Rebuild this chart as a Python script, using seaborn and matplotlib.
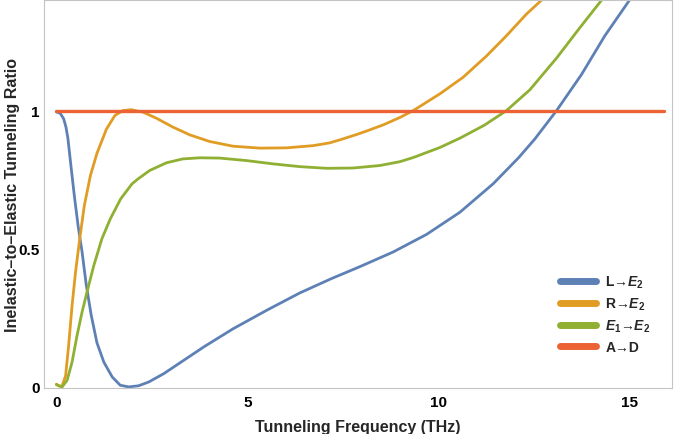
import numpy as np
import pandas as pd
import matplotlib
matplotlib.use("Agg")
import matplotlib.pyplot as plt
import seaborn as sns

# values
blue_x = [0.0, 0.1, 0.19, 0.25, 0.30, 0.38, 0.47, 0.57, 0.67, 0.78, 0.91, 1.06, 1.24, 1.46,
          1.67, 1.89, 2.15, 2.42, 2.81, 3.33, 3.86, 4.62, 5.50, 6.37, 7.2, 7.94, 8.81, 9.69,
          10.56, 11.43, 12.1, 12.52, 13.09, 13.74, 14.35, 15.0, 15.3]
blue_y = [0.995, 0.99, 0.97, 0.94, 0.90, 0.80, 0.69, 0.58, 0.49, 0.37, 0.26, 0.16, 0.09, 0.036,
          0.006, 0.0, 0.004, 0.018, 0.048, 0.096, 0.145, 0.21, 0.277, 0.340, 0.392, 0.435, 0.488,
          0.552, 0.632, 0.735, 0.83, 0.897, 1.0, 1.13, 1.27, 1.40, 1.47]

orange_x = [0.0, 0.06, 0.14, 0.24, 0.32, 0.41, 0.50, 0.61, 0.73, 0.89, 1.06, 1.31, 1.53, 1.74,
            1.96, 2.27, 2.62, 3.05, 3.49, 4.01, 4.62, 5.32, 6.02, 6.72, 7.15, 7.42, 7.85,
            8.12, 8.55, 8.99, 9.34, 10.03, 10.64, 11.26, 11.78, 12.30, 12.70, 12.9]
orange_y = [0.01, 0.004, 0.0, 0.04, 0.15, 0.295, 0.415, 0.536, 0.656, 0.765, 0.845, 0.933, 0.982, 1.0,
            1.003, 0.994, 0.972, 0.94, 0.912, 0.888, 0.871, 0.864, 0.865, 0.873, 0.883, 0.894, 0.913,
            0.926, 0.948, 0.975, 1.0, 1.06, 1.12, 1.198, 1.271, 1.349, 1.40, 1.43]

green_x = [0.0, 0.15, 0.28, 0.41, 0.54, 0.67, 0.80, 0.98, 1.19, 1.41, 1.68, 1.98, 2.14, 2.44,
           2.88, 3.31, 3.75, 4.27, 4.97, 5.67, 6.37, 7.07, 7.76, 8.46, 8.99, 9.34, 10.03,
           10.56, 11.2, 11.78, 12.39, 13.09, 13.70, 14.27, 14.6]
green_y = [0.008, 0.0, 0.024, 0.09, 0.186, 0.27, 0.343, 0.44, 0.536, 0.608, 0.68, 0.735, 0.753, 0.783,
           0.811, 0.825, 0.829, 0.828, 0.819, 0.807, 0.797, 0.791, 0.792, 0.801, 0.815, 0.830, 0.866,
           0.90, 0.947, 1.0, 1.075, 1.19, 1.30, 1.40, 1.46]

red_x = [0.0, 15.9]
red_y = [1.0, 1.0]

series = ["L→$E_2$", "R→$E_2$", "$E_1$→$E_2$", "A→D"]
colors = ["#5E81B5", "#E19C24", "#8FB032", "#EB6235"]

df = pd.concat([
    pd.DataFrame({"x": blue_x, "y": blue_y, "s": series[0]}),
    pd.DataFrame({"x": orange_x, "y": orange_y, "s": series[1]}),
    pd.DataFrame({"x": green_x, "y": green_y, "s": series[2]}),
    pd.DataFrame({"x": red_x, "y": red_y, "s": series[3]}),
], ignore_index=True)

sns.set_style("white")
plt.rcParams["font.family"] = ["Liberation Sans", "DejaVu Sans"]
plt.rcParams["font.weight"] = "bold"
plt.rcParams["mathtext.fontset"] = "custom"
plt.rcParams["mathtext.it"] = "Liberation Sans:italic:bold"
plt.rcParams["mathtext.rm"] = "Liberation Sans:bold"
plt.rcParams["mathtext.bf"] = "Liberation Sans:bold"

fig = plt.figure(figsize=(6.75, 4.35), dpi=100)
ax = fig.add_axes([44 / 675, 1 - 389 / 435, 628 / 675, 388 / 435])

sns.lineplot(data=df, x="x", y="y", hue="s", hue_order=series,
             palette=dict(zip(series, colors)), sort=False, estimator=None,
             linewidth=2.0, ax=ax)
ax.lines[3].set_linewidth(2.4)

ax.set_xlim(-0.325, 16.11)
ax.set_ylim(-0.004, 1.40)
ax.set_xticks([0, 5, 10, 15])
ax.set_xticklabels(["0", "5", "10", "15"])
ax.set_yticks([0, 0.5, 1])
ax.set_yticklabels(["0", "0.5", "1"])
ax.tick_params(direction="in", length=4, width=0.8, colors="#bbbbbb",
               labelcolor="black", labelsize=11)
ax.tick_params(axis="x", pad=5)
ax.tick_params(axis="y", pad=3)
for sp in ax.spines.values():
    sp.set_color("#c4c4c4")
    sp.set_linewidth(0.8)

ax.set_xlabel("Tunneling Frequency (THz)", fontsize=11.5, fontweight="bold")
ax.set_ylabel("Inelastic–to–Elastic Tunneling Ratio", fontsize=11.5, fontweight="bold")
ax.xaxis.set_label_coords(0.5, -0.079)
ax.yaxis.set_label_coords(-0.039, 0.5)

handles, labels = ax.get_legend_handles_labels()
leg = ax.legend(handles, labels, loc="lower left", bbox_to_anchor=(0.822, 0.088),
                frameon=False, fontsize=10, borderpad=0, borderaxespad=0,
                handlelength=2.6, handletextpad=0.65, labelspacing=0.4)
for ln in leg.get_lines():
    ln.set_linewidth(5)

fig.savefig("out.png", dpi=100)
